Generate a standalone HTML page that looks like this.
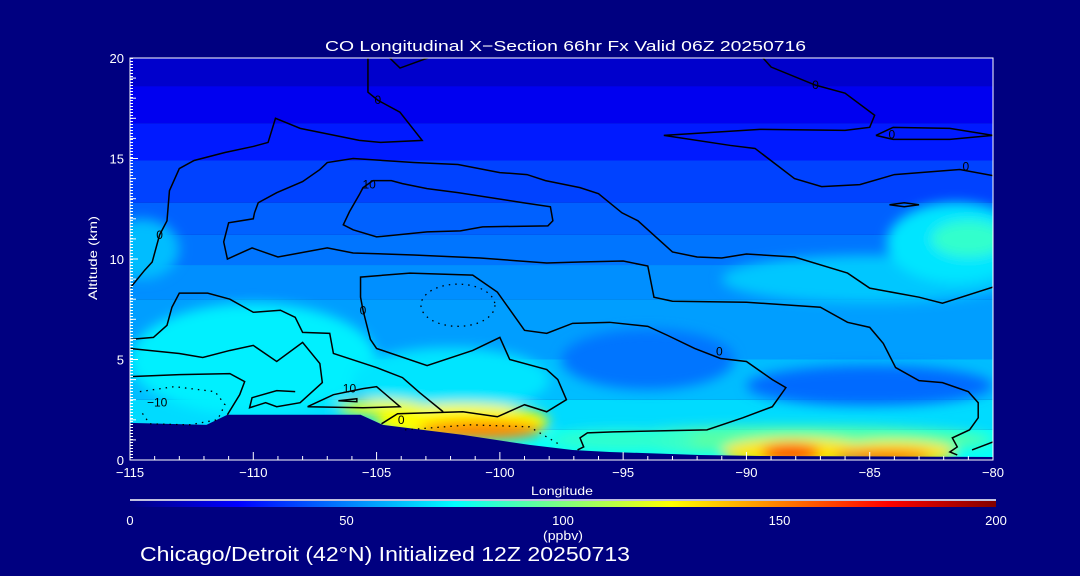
<!DOCTYPE html>
<html><head><meta charset="utf-8">
<style>
html,body{margin:0;padding:0;background:#000080;}
svg{display:block;}
text{font-family:"Liberation Sans",sans-serif;fill:#fff;}
</style></head>
<body>
<svg id="chart" width="1080" height="576" viewBox="0 0 1080 576" xmlns="http://www.w3.org/2000/svg">
<defs>
<clipPath id="plotClip"><rect x="130" y="58" width="863" height="402"/></clipPath>
<filter id="blur" x="-50%" y="-50%" width="200%" height="200%"><feGaussianBlur stdDeviation="6"/></filter>
<linearGradient id="cbar" x1="0" x2="1" y1="0" y2="0">
<stop offset="0" stop-color="#000080"/><stop offset="0.125" stop-color="#0000ff"/>
<stop offset="0.375" stop-color="#00ffff"/><stop offset="0.625" stop-color="#ffff00"/>
<stop offset="0.875" stop-color="#ff0000"/><stop offset="1" stop-color="#800000"/>
</linearGradient>
</defs>
<rect x="0" y="0" width="1080" height="576" fill="#000080"/>
<g id="fills" clip-path="url(#plotClip)"></g>
<g id="blobs" clip-path="url(#plotClip)" filter="url(#blur)"></g>
<g id="terrainG" clip-path="url(#plotClip)"></g>
<g id="contours" clip-path="url(#plotClip)"></g>
<g id="axes"></g>
<text x="325" y="51" font-size="15" textLength="481" lengthAdjust="spacingAndGlyphs">CO Longitudinal X−Section 66hr  Fx Valid 06Z 20250716</text>
<text transform="translate(97,258) rotate(-90)" text-anchor="middle" font-size="12" textLength="84" lengthAdjust="spacingAndGlyphs">Altitude (km)</text>
<text x="562" y="495" text-anchor="middle" font-size="12" textLength="62" lengthAdjust="spacingAndGlyphs">Longitude</text>
<line x1="130" y1="500" x2="996" y2="500" stroke="#fff" stroke-width="1.5"/>
<rect x="130" y="501" width="866" height="6" fill="url(#cbar)"/>
<g id="cbarLabels"></g>
<text x="563" y="540" text-anchor="middle" font-size="13" textLength="40" lengthAdjust="spacingAndGlyphs">(ppbv)</text>
<text x="140" y="561" font-size="20" textLength="490" lengthAdjust="spacingAndGlyphs">Chicago/Detroit (42°N) Initialized 12Z 20250713</text>
</svg>
<script>
// ---- data ----
const xTicks = [-115,-110,-105,-100,-95,-90,-85,-80];
const xTickLabels = ["−115","−110","−105","−100","−95","−90","−85","−80"];
const yTicks = [0,5,10,15,20];
const yTickLabels = ["0","5","10","15","20"];
const cbarTicks = [0,50,100,150,200];
const bandTops = [20.2,18.6,16.75,14.9,12.8,11.2,9.7,8.0,5.0,3.0,1.5];
const bandBottoms = [18.6,16.75,14.9,12.8,11.2,9.7,8.0,5.0,3.0,1.5,-0.5];
const bandValues = [15,22,30,38,44,48,53,56,62,68,76];
// features: lon, alt, half-width(deg), half-height(km), ppbv
const blobLon = [-110,-102,-114.5,-85,-81.5,-81.0,-85,-94,-88,-88,-84,-88.2,-84.5,-101.5,-100.8,-104.8,-95];
const blobAlt = [5,4,10.5,9,10.8,11,3.7,5,1.0,0.4,0.35,0.35,0.2,1.9,1.5,2.6,1.0];
const blobHW = [5,4,1.5,6,2.8,1.5,5,3.5,8,3,2.5,1.2,2,3.5,2.5,1.8,3];
const blobHH = [2.8,1.6,1.5,1.2,2.0,0.9,1.0,1.5,0.7,0.7,0.6,0.45,0.25,0.9,0.5,0.4,0.5];
const blobVal = [72,70,62,64,70,85,46,48,92,130,130,160,170,125,148,122,85];
// terrain profile
const terrLon = [-115,-111.9,-111.05,-105.65,-104.75,-101.5,-98.8,-97.05,-95.55,-91.9,-89.45,-80];
const terrAlt = [1.85,1.75,2.25,2.25,1.75,1.25,0.75,0.5,0.4,0.25,0.2,0.15];
// contour lines
const cA_lon=[-105.35,-105.35,-104.95,-104.05,-103.15,-104.85,-105.7,-108.1,-109.1,-109.4,-110,-111.15,-112.4,-113,-113.4,-113.5,-113.8,-114.1,-114.4,-115];
const cA_alt=[20.1,18.3,17.9,17.3,15.9,15.8,15.9,16.5,17.0,15.8,15.6,15.3,14.9,14.5,13.4,11.9,11.2,9.85,9.45,8.55];
const cB_lon=[-104.55,-104.05,-102.7];
const cB_alt=[20.1,19.5,20.1];
const cB2_lon=[-89.4,-89,-87.2,-86,-84.8,-85,-86,-89.45,-93.35,-90.65,-89.65,-88.05,-86.95,-85.4,-84,-81.35,-80];
const cB2_alt=[20.1,19.55,18.65,18.25,17.15,16.55,16.4,16.45,16.15,15.65,15.5,14.0,13.6,13.7,14.2,14.45,14.15];
const cC_lon=[-84.75,-84.05,-81.75,-80,-81.75,-84.05,-84.75];
const cC_alt=[16.15,16.55,16.5,16.15,15.95,15.95,16.15];
const cC2_lon=[-84.2,-83.6,-83,-83.6,-84.2];
const cC2_alt=[12.7,12.8,12.7,12.6,12.7];
const cD_lon=[-105.15,-104.4,-103.95,-102.95,-101.7,-99.05,-97.95,-97.85,-98.05,-100.7,-101.6,-102.95,-105,-105.95,-106.35,-106.1,-105.7,-105.55,-105.15];
const cD_alt=[13.9,13.9,13.75,13.5,13.3,12.8,12.6,11.9,11.65,11.6,11.4,11.35,11.1,11.45,11.7,12.35,13.2,13.55,13.9];
const cE_lon=[-80,-82.05,-83,-85,-85.9,-88.05,-90,-91,-92,-93,-94.4,-95.05,-96,-96.75,-98.15,-98.9,-100,-101.7,-103.5,-105.95,-107,-107.3,-108,-109.05,-109.8,-109.95,-110,-111,-111.2,-111.05,-110.05,-109,-107,-105.95,-103.5,-100.8,-98.1,-96.75,-95,-94,-93.75,-93,-90,-87,-85.9,-85,-84.45,-83.95,-83,-82.05,-81,-80.6,-80.6,-80.95,-81.65,-81.45,-81.75,-81.45];
const cE_alt=[8.6,7.8,8.1,8.55,9.3,10.1,10.25,10.05,10.1,10.35,11.9,12.3,13.25,13.55,13.9,14.2,14.3,14.7,14.8,15.0,14.8,14.45,13.85,13.3,12.8,12.3,12.0,11.8,10.85,10.0,10.55,10.1,10.55,10.3,10.2,10.05,9.8,9.85,9.9,9.65,8.1,7.9,7.85,7.6,6.85,6.6,5.8,4.6,3.95,3.85,3.4,2.85,2.1,1.5,1.1,0.65,0.4,0.25];
const cG_lon=[-104.8,-104.15,-101.5,-100.1,-99,-98.1,-97.3,-97.65,-98.1,-99.6,-100,-101.1,-102.95,-105,-105.25,-105.55,-105.65,-105.65,-103.65,-101.1,-100.1,-99,-98.1,-97.05,-95.55,-94,-93.2,-92.1,-91.05,-90,-88.95,-88.4,-88.95,-90.15,-91.6,-95.4,-96.45,-96.75,-96.6,-96.85];
const cG_alt=[1.8,2.3,2.4,2.15,2.75,2.4,3.0,4.0,4.5,5.0,6.1,5.45,4.7,5.55,6.0,7.45,8.1,9.1,9.3,9.2,8.35,6.45,6.3,6.8,6.85,6.65,6.2,5.55,5.05,4.9,4.0,3.6,2.65,2.1,1.5,1.4,1.35,1.1,0.65,0.5];
const cH_lon=[-115,-114.05,-113.5,-113.3,-113,-111.85,-110.95,-110,-108.9,-108.3,-108,-106.9,-106.75,-105,-103.95,-103.25,-102.3];
const cH_alt=[6.0,6.1,6.7,7.6,8.3,8.3,8.0,7.35,7.45,7.1,6.35,6.3,5.3,4.6,4.1,3.35,2.4];
const cI_lon=[-115,-113,-112.05,-110.95,-110,-109.05,-108,-107.3,-107.2,-108.1,-109.05,-109.5,-110.15,-110.05,-109.05,-108.3];
const cI_alt=[5.55,5.3,5.1,5.45,5.7,4.9,5.85,4.8,3.85,2.85,2.65,2.85,2.6,3.1,3.45,3.4];
const cJ_lon=[-107.8,-106.75,-105.55,-105,-104.05,-105.55,-107.8];
const cJ_alt=[2.65,3.25,3.55,3.65,2.65,2.6,2.65];
const cJ2_lon=[-106.55,-105.8,-105.8,-106.55];
const cJ2_alt=[2.95,3.05,2.9,2.95];
const cK_lon=[-115,-113,-110.95,-110.35,-110.55,-111.05];
const cK_alt=[4.15,4.25,4.3,3.9,3.25,2.25];
const cR_lon=[-80.85,-80];
const cR_alt=[0.5,0.9];
const dL_lon=[-114.6,-113.2,-111.55,-111.15,-111.45,-112.6,-114.2,-114.6];
const dL_alt=[3.4,3.65,3.4,2.75,2.0,1.75,1.8,2.5];
const dG_lon=[-103.85,-101.2,-98.8,-97.55];
const dG_alt=[1.5,1.75,1.65,0.75];
const dEllLon=[-101.7], dEllAlt=[7.7], dEllHW=[1.5], dEllHH=[1.05];
const lblText=["0","0","0","0","0","0","0","0","10","10","−10"];
const lblLon=[-104.95,-87.2,-84.1,-81.1,-113.8,-105.55,-91.1,-104.0,-105.3,-106.1,-113.9];
const lblAlt=[17.9,18.65,16.2,14.6,11.2,7.45,5.4,2.0,13.7,3.55,2.85];

// ---- axes functions ----
const X0=130,X1=993,Y0=460,Y1=58;
const xS=lon=>X0+(lon+115)/35*(X1-X0);
const yS=alt=>Y0-alt/20*(Y0-Y1);
const cS=v=>130+v/200*866;
const NS="http://www.w3.org/2000/svg";
function mk(tag,attrs,parent){const e=document.createElementNS(NS,tag);for(const k in attrs)e.setAttribute(k,attrs[k]);parent.appendChild(e);return e;}
function jet(v){const t=Math.max(0,Math.min(1,v/200));const c=x=>Math.round(255*Math.max(0,Math.min(1,1.5-Math.abs(4*t-x))));return `rgb(${c(3)},${c(2)},${c(1)})`;}

const fills=document.getElementById('fills');
for(let i=0;i<bandValues.length;i++){
  const r=mk('rect',{x:X0,y:yS(bandTops[i]),width:X1-X0,height:yS(bandBottoms[i])-yS(bandTops[i]),fill:jet(bandValues[i])},fills);
  
  
}
const blobs=document.getElementById('blobs');
for(let i=0;i<blobVal.length;i++){
  const cx=xS(blobLon[i]),rx=xS(blobLon[i]+blobHW[i])-cx;
  const cy=yS(blobAlt[i]),ry=yS(blobAlt[i]-blobHH[i])-cy;
  const e=mk('ellipse',{cx,cy,rx,ry,fill:jet(blobVal[i])},blobs);
  
  
}
const tg=document.getElementById('terrainG');
let tp=terrLon.map((l,i)=>xS(l)+','+yS(terrAlt[i])).join(' ');
tp+=' '+xS(-80)+','+(Y0+2)+' '+xS(-115)+','+(Y0+2);
const terr=mk('polygon',{points:tp,fill:'#000080'},tg);



const cg=document.getElementById('contours');
const solid=[[cA_lon,cA_alt],[cB_lon,cB_alt],[cB2_lon,cB2_alt],[cC_lon,cC_alt],[cC2_lon,cC2_alt],[cD_lon,cD_alt],[cE_lon,cE_alt],[cG_lon,cG_alt],[cH_lon,cH_alt],[cI_lon,cI_alt],[cJ_lon,cJ_alt],[cJ2_lon,cJ2_alt],[cK_lon,cK_alt],[cR_lon,cR_alt]];
solid.forEach(([lo,al])=>{
  const p=mk('polyline',{points:lo.map((l,i)=>xS(l)+','+yS(al[i])).join(' '),fill:'none',stroke:'#000','stroke-width':1.5},cg);
  
  
});
[[dL_lon,dL_alt],[dG_lon,dG_alt]].forEach(([lo,al])=>{
  const p=mk('polyline',{points:lo.map((l,i)=>xS(l)+','+yS(al[i])).join(' '),fill:'none',stroke:'#000','stroke-width':1.3,'stroke-dasharray':'1.5,5'},cg);
  
  
});
for(let i=0;i<dEllLon.length;i++){
  const cx=xS(dEllLon[i]),rx=xS(dEllLon[i]+dEllHW[i])-cx,cy=yS(dEllAlt[i]),ry=yS(dEllAlt[i]-dEllHH[i])-cy;
  const e=mk('ellipse',{cx,cy,rx,ry,fill:'none',stroke:'#000','stroke-width':1.3,'stroke-dasharray':'1.5,5'},cg);
  
  
}
for(let i=0;i<lblText.length;i++){
  const t=mk('text',{x:xS(lblLon[i]),y:yS(lblAlt[i])+4,'text-anchor':'middle','font-size':12,style:'fill:#000'},cg);
  t.textContent=lblText[i];
  
  
}

// ---- axes ----
const ax=document.getElementById('axes');
const frame=mk('rect',{x:X0,y:Y1,width:X1-X0,height:Y0-Y1,fill:'none',stroke:'#fff','stroke-width':1},ax);


const dots=mk('line',{x1:X0+1.5,y1:Y1,x2:X0+1.5,y2:Y0,stroke:'#fff','stroke-width':3,'stroke-dasharray':'1,2'},ax);


for(let l=-115;l<=-80;l++){
  const major=(l%5===0);
  const t=mk('line',{x1:xS(l),y1:Y0,x2:xS(l),y2:Y0-(major?8:4),stroke:'#fff','stroke-width':1},ax);
  
  
}
for(let a=0;a<=20;a++){
  const t=mk('line',{x1:X0,y1:yS(a),x2:X0+(a%5===0?8:6),y2:yS(a),stroke:'#fff','stroke-width':1},ax);
  
  
}
xTicks.forEach((v,i)=>{
  const t=mk('text',{x:xS(v),y:477,'text-anchor':'middle','font-size':13},ax);
  t.textContent=xTickLabels[i];
  
  
});
yTicks.forEach((v,i)=>{
  const t=mk('text',{x:124,y:yS(v)+5,'text-anchor':'end','font-size':13},ax);
  t.textContent=yTickLabels[i];
  
  
});
const cl=document.getElementById('cbarLabels');
cbarTicks.forEach(v=>{
  const t=mk('text',{x:cS(v),y:525,'text-anchor':'middle','font-size':13},cl);
  t.textContent=String(v);
  
  
});
</script>
</body></html>
